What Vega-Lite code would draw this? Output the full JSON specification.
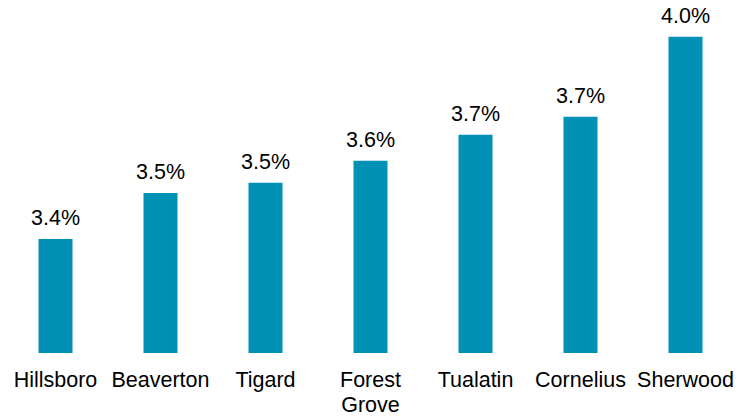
{
  "$schema": "https://vega.github.io/schema/vega-lite/v6.json",
  "width": 735,
  "height": 348,
  "autosize": "none",
  "padding": {"left": 3, "top": 5, "right": 13, "bottom": 63},
  "background": "white",
  "config": {"view": {"stroke": null}, "font": "Liberation Sans"},
  "data": {"values": [
    {"city": "Hillsboro", "rate": 0.0336},
    {"city": "Beaverton", "rate": 0.03506},
    {"city": "Tigard", "rate": 0.03538},
    {"city": "Forest Grove", "rate": 0.03608},
    {"city": "Tualatin", "rate": 0.0369},
    {"city": "Cornelius", "rate": 0.03747},
    {"city": "Sherwood", "rate": 0.04}
  ]},
  "encoding": {
    "x": {"field": "city", "type": "nominal", "sort": null,
      "scale": {"paddingInner": 0.676, "paddingOuter": 0.338},
      "axis": {"title": null, "ticks": false, "domain": false, "labelAngle": 0,
        "labelFont": "Liberation Sans", "labelFontSize": 21.5, "labelColor": "#000000",
        "labelPadding": 16, "labelLineHeight": 25, "labelExpr": "split(datum.label, ' ')"}},
    "y": {"field": "rate", "type": "quantitative",
      "scale": {"domain": [0.03, 0.041], "zero": false, "nice": false},
      "axis": null}
  },
  "layer": [
    {"mark": {"type": "bar", "color": "#0191b4", "clip": true}},
    {"mark": {"type": "text", "baseline": "bottom", "dy": -9, "fontSize": 21.5, "font": "Liberation Sans", "color": "#000000"},
     "encoding": {"text": {"field": "rate", "type": "quantitative", "format": ".1%"}}}
  ]
}
